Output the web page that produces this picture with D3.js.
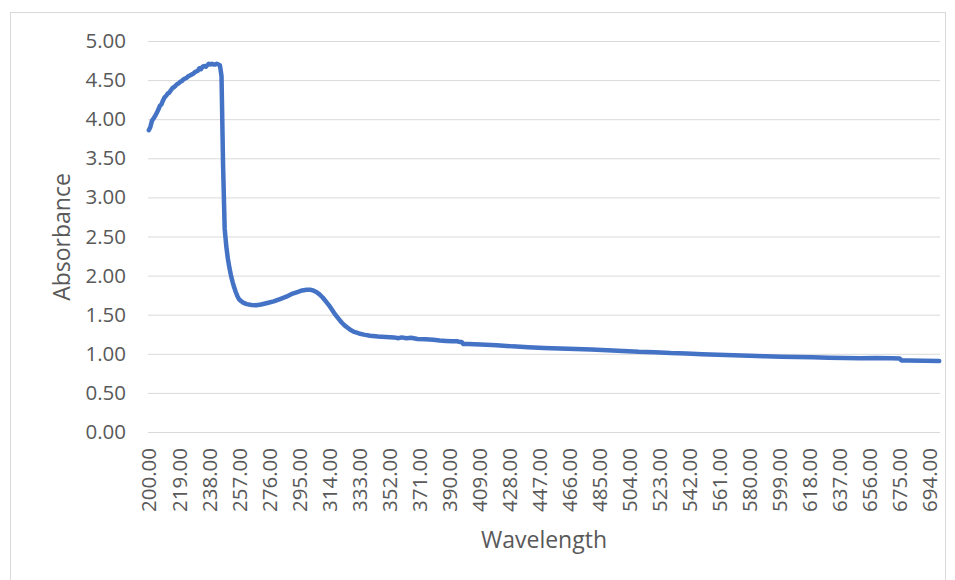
<!DOCTYPE html>
<html>
<head>
<meta charset="utf-8">
<script src="https://cdn.jsdelivr.net/npm/d3@7"></script>
<style>
  body { margin: 0; background: #fff; }
  svg { display: block; }
  .tick text { font-family: "Open Sans", sans-serif; fill: #595959; }
</style>
</head>
<body>
<div id="chart"></div>
<script>
'use strict';

// wavelength (nm) and absorbance
var wavelength = [
  200, 201, 202, 203, 204, 205, 206, 207, 208, 209, 210, 211, 212, 213, 214, 215,
  216, 217, 218, 219, 220, 221, 222, 223, 224, 225, 226, 227, 228, 229, 230, 231,
  232, 233, 234, 235, 236, 237, 238, 239, 240, 241, 242, 243, 244, 245, 246, 247,
  248, 249, 250, 251, 252, 253, 254, 255, 256, 257, 258, 260, 262, 265, 268, 271,
  275, 279, 283, 287, 291, 294, 297, 300, 302, 304, 306, 308, 310, 312, 314, 316,
  318, 320, 322, 324, 326, 328, 330, 333, 336, 340, 345, 350, 355, 358, 360, 363,
  366, 370, 375, 380, 384, 388, 392, 395, 397, 398, 399, 402, 410, 420, 430, 440,
  450, 460, 470, 480, 490, 500, 510, 520, 530, 540, 550, 560, 570, 580, 590, 600,
  610, 620, 630, 640, 650, 660, 670, 675, 676, 680, 690, 700
];
var absorbance = [
  3.86, 3.90, 3.98, 4.01, 4.04, 4.08, 4.12, 4.17, 4.19, 4.24, 4.28, 4.30, 4.33, 4.34, 4.37, 4.40,
  4.41, 4.43, 4.45, 4.46, 4.48, 4.49, 4.51, 4.52, 4.53, 4.55, 4.56, 4.57, 4.58, 4.60, 4.61, 4.62,
  4.65, 4.64, 4.67, 4.68, 4.67, 4.69, 4.71, 4.70, 4.71, 4.70, 4.70, 4.71, 4.70, 4.69, 4.55, 3.40,
  2.60, 2.38, 2.22, 2.10, 2.00, 1.92, 1.85, 1.79, 1.74, 1.70, 1.68, 1.65, 1.635, 1.625, 1.62, 1.63,
  1.65, 1.67, 1.70, 1.73, 1.77, 1.79, 1.81, 1.82, 1.82, 1.81, 1.79, 1.76, 1.72, 1.67, 1.62, 1.56,
  1.50, 1.45, 1.40, 1.36, 1.33, 1.30, 1.28, 1.26, 1.245, 1.23, 1.22, 1.215, 1.21, 1.20, 1.21, 1.20,
  1.205, 1.19, 1.185, 1.18, 1.17, 1.165, 1.16, 1.16, 1.15, 1.15, 1.125, 1.125, 1.12, 1.11, 1.095, 1.085,
  1.075, 1.068, 1.06, 1.055, 1.045, 1.035, 1.025, 1.02, 1.01, 1.005, 0.995, 0.988, 0.98, 0.975, 0.968, 0.962,
  0.958, 0.955, 0.95, 0.945, 0.942, 0.945, 0.942, 0.94, 0.915, 0.913, 0.91, 0.908
];

var xTickLabels = [200, 219, 238, 257, 276, 295, 314, 333, 352, 371, 390, 409, 428, 447,
  466, 485, 504, 523, 542, 561, 580, 599, 618, 637, 656, 675, 694];
var yTickLabels = [0, 0.5, 1, 1.5, 2, 2.5, 3, 3.5, 4, 4.5, 5];

var width = 955, height = 580;
var plot = {left: 148, right: 940, top: 41, bottom: 432};

var svg = d3.select("#chart").append("svg")
  .attr("width", width).attr("height", height);

// chart area border
svg.append("rect")
  .attr("x", 10.5).attr("y", 12.5)
  .attr("width", 935).attr("height", 580)
  .attr("fill", "none").attr("stroke", "#d9d9d9").attr("stroke-width", 1);

// category axis: one band per nm, points sit in the middle of the band
var x = d3.scaleLinear()
  .domain([wavelength[0] - 0.5, wavelength[wavelength.length - 1] + 0.5])
  .range([plot.left, plot.right]);

var y = d3.scaleLinear().domain([0, 5]).range([plot.bottom, plot.top]);

// gridlines + y labels
var yAxis = svg.append("g")
  .attr("transform", "translate(" + plot.left + ",0)")
  .call(d3.axisLeft(y).tickValues(yTickLabels)
    .tickSize(-(plot.right - plot.left)).tickPadding(22)
    .tickFormat(d3.format(".2f")));
yAxis.select(".domain").remove();
yAxis.selectAll(".tick line").attr("stroke", "#d9d9d9").attr("stroke-width", 1);
yAxis.selectAll(".tick text").attr("font-size", "20.5px");

// x labels, rotated
var xAxis = svg.append("g")
  .attr("transform", "translate(0," + plot.bottom + ")")
  .call(d3.axisBottom(x).tickValues(xTickLabels).tickSize(0)
    .tickFormat(d3.format(".2f")));
xAxis.select(".domain").remove();
xAxis.selectAll(".tick text")
  .attr("font-size", "20.5px")
  .attr("transform", "rotate(-90)")
  .attr("text-anchor", "end")
  .attr("x", -16).attr("y", 0).attr("dy", "0.35em");

// the spectrum
var line = d3.line()
  .x(function(d, i){ return x(wavelength[i]); })
  .y(function(d){ return y(d); });

svg.append("path")
  .datum(absorbance)
  .attr("d", line)
  .attr("fill", "none")
  .attr("stroke", "#4472c4")
  .attr("stroke-width", 4.5)
  .attr("stroke-linejoin", "round")
  .attr("stroke-linecap", "round");

// axis titles
svg.append("text")
  .attr("transform", "translate(70,237) rotate(-90)")
  .attr("text-anchor", "middle")
  .attr("font-family", "Open Sans, sans-serif")
  .attr("font-size", "23px")
  .attr("fill", "#595959")
  .text("Absorbance");

svg.append("text")
  .attr("x", 544).attr("y", 548)
  .attr("text-anchor", "middle")
  .attr("font-family", "Open Sans, sans-serif")
  .attr("font-size", "23px")
  .attr("fill", "#595959")
  .text("Wavelength");
</script>
</body>
</html>
